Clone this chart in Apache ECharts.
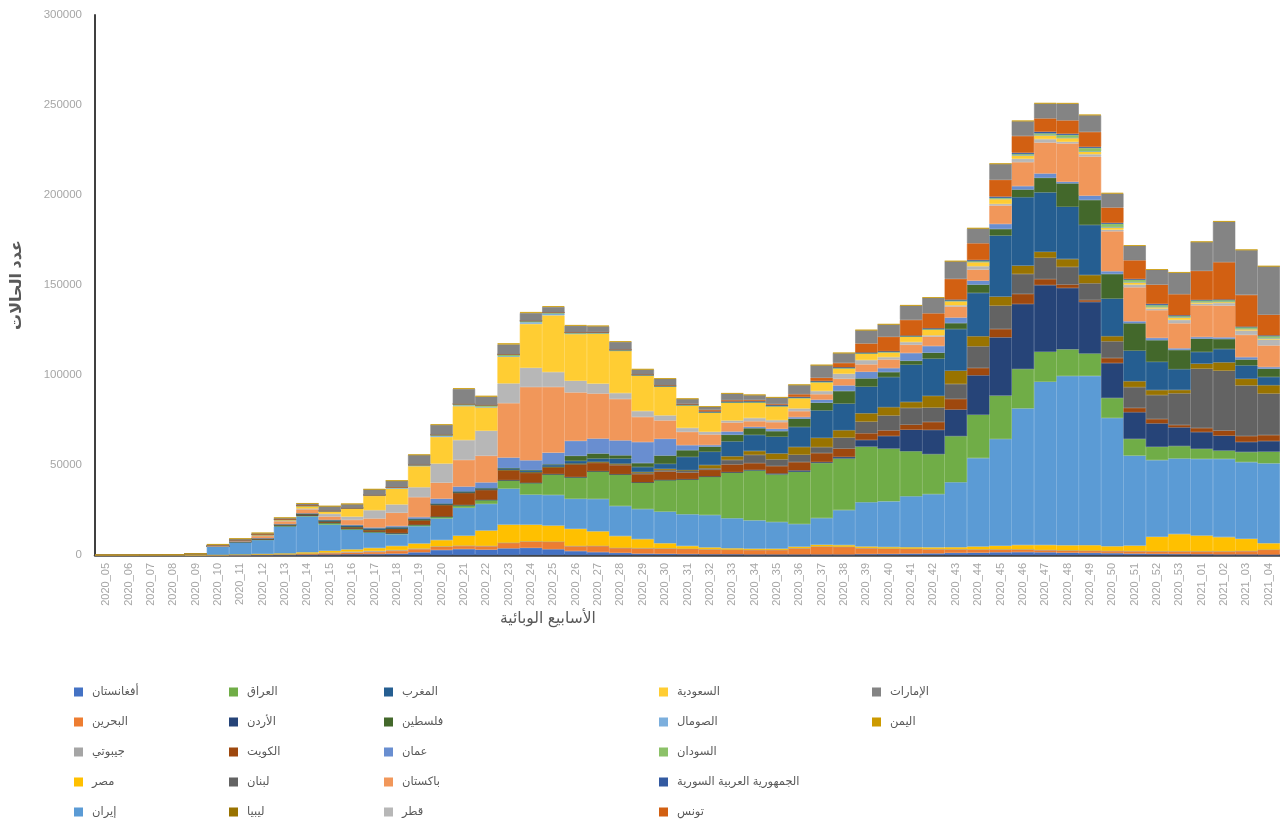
<!DOCTYPE html>
<html>
<head>
<meta charset="utf-8">
<title>عدد الحالات حسب الأسابيع الوبائية</title>
<script src="https://cdn.jsdelivr.net/npm/echarts@6/dist/echarts.min.js"></script>
<style>
  html, body { margin: 0; padding: 0; background: #fff; }
  #main { width: 1280px; height: 825px; }
</style>
</head>
<body>
<div id="main"></div>
<script>
// الأسابيع الوبائية
var weeks = ['2020_05','2020_06','2020_07','2020_08','2020_09','2020_10','2020_11','2020_12','2020_13','2020_14',
  '2020_15','2020_16','2020_17','2020_18','2020_19','2020_20','2020_21','2020_22','2020_23','2020_24',
  '2020_25','2020_26','2020_27','2020_28','2020_29','2020_30','2020_31','2020_32','2020_33','2020_34',
  '2020_35','2020_36','2020_37','2020_38','2020_39','2020_40','2020_41','2020_42','2020_43','2020_44',
  '2020_45','2020_46','2020_47','2020_48','2020_49','2020_50','2020_51','2020_52','2020_53',
  '2021_01','2021_02','2021_03','2021_04'];

var yTicks = [0, 50000, 100000, 150000, 200000, 250000, 300000];

// weekly cases per country
var afghanistan = [0,0,0,0,0, 0,10,20,100,150, 250,400,500,800,1500, 2800,3300,3000,3700,4000, 3200,2200,1600,1200,800, 700,500,400,400,300, 300,300,300,300,500, 600,800,900,1200,1300, 1500,1600,1500,1300,1200, 1000,800,600,500,400, 300,300,200];
var bahrain = [0,0,10,20,30, 80,150,300,250,500, 800,1000,1200,1500,1800, 1800,1800,2000,3100,3500, 4200,2800,3500,2800,3000, 3000,3000,2800,2600,2600, 2600,3500,4500,4300,3400, 3000,2700,2400,2000,1800, 1600,1500,1300,1200,1200, 1300,1400,1500,1600,1700, 1800,2000,2800];
var djibouti = [0,0,0,0,0, 0,0,10,50,150, 300,500,600,400,300, 200,150,100,80,60, 50,40,30,20,20, 10,10,10,10,10, 10,10,10,10,10, 10,10,10,10,20, 30,40,50,50,40, 30,20,20,10,10, 10,10,10];
var egypt = [0,0,5,10,20, 50,150,300,500,700, 1000,1200,1600,2300,2800, 3500,5500,8500,10000,9300, 8900,9500,8000,6500,5000, 2800,1500,1000,700,600, 600,800,900,900,800, 800,800,900,1100,1600, 2000,2400,2700,2800,3000, 2500,3000,8000,9500,8700, 7800,6700,3500];
var iran = [0,0,0,30,500, 4600,6900,7800,15000,20000, 14500,11000,8500,6500,9600, 12000,15500,14800,20000,16700, 17000,16700,18000,16700,16700, 17600,17600,18000,16700,15700, 14800,12600,14800,19400,24600, 25400,28300,29600,36100,49100, 59300,75900,90700,94100,94100, 71300,50000,42600,42000,42600, 43500,42600,44400];
var iraq = [0,0,0,0,10, 50,100,200,300,400, 1000,500,500,600,800, 1000,1500,2200,4600,6500, 11500,12000,15400,17600,14800, 17600,19400,21300,25400,27800, 26500,29000,30600,28700,30900, 29300,25000,22200,25600,24100, 24100,21900,16700,14800,12400, 11100,9300,7400,6900,5600, 4600,5600,6500];
var jordan = [0,0,0,0,0, 0,50,100,150,100, 80,50,30,30,30, 50,100,100,100,100, 100,80,60,50,50, 50,100,150,200,300, 500,800,500,900,3700, 7000,12000,13500,14800,21900, 32400,36100,37000,34100,28700, 19400,14800,13000,10400,9300, 8300,5600,5900];
var kuwait = [0,0,10,30,40, 50,100,150,200,500, 600,800,1000,2500,2400, 6500,6700,5500,5500,5500, 3700,7000,4600,5000,4600, 4600,3700,3700,4300,3700, 4100,4600,5000,4600,3700, 3100,2800,4400,5900,4100, 4600,5600,3300,1900,1000, 2800,2400,2400,1300,2200, 2800,3300,3300];
var lebanon = [0,0,0,0,10, 30,50,100,100,80, 60,30,20,10,50, 100,100,100,150,200, 100,200,300,500,600, 800,1000,800,2500,4600, 3700,4100,3300,6100,6500, 8300,9300,8000,8300,12000, 13000,11100,11900,9800,9300, 9300,11500,13300,17600,33000, 33300,28100,23100];
var libya = [0,0,0,0,0, 0,0,10,10,10, 20,10,10,10,20, 30,50,80,100,150, 200,300,300,400,500, 700,300,1800,2000,2200, 3300,4300,5200,4100,4600, 4600,3300,6500,7400,5600, 5000,4600,3300,4300,4600, 2800,3300,2800,1900,2800, 4600,3700,4600];
var morocco = [0,0,0,0,0, 10,50,200,300,300, 600,800,700,600,700, 500,500,600,800,900, 1100,1500,1800,2800,2800, 2800,7400,7400,8300,8900, 9300,11100,15200,14800,14800, 16700,20700,20700,23100,24100, 33900,38000,33000,29100,27800, 20900,17000,15700,11500,6500, 7400,7400,4600];
var palestine = [0,0,0,0,0, 10,20,30,50,50, 60,30,20,30,30, 20,30,50,100,200, 300,2800,2800,1800,2200, 4600,3700,2800,3700,3700, 3100,4600,4300,7000,4600, 2800,2200,3300,3300,4600, 3700,4300,8100,13000,13900, 13700,15200,12000,10700,7400, 5600,3300,4600];
var oman = [0,0,0,0,0, 10,30,100,150,200, 300,400,600,800,1000, 2800,2800,3300,5900,5500, 6500,8300,8300,8300,11700, 9300,2800,900,1800,800, 1300,900,1700,3100,3700, 2200,4300,3700,3100,2200, 2800,1900,2400,900,2400, 1500,1100,1300,900,900, 900,1300,900];
var pakistan = [0,0,0,0,0, 20,200,1300,1600,2200, 1800,2800,5000,7400,11100, 8900,14800,14800,30200,40700, 36500,26900,25000,23000,13900, 10200,7400,5900,5000,3100, 3700,3300,3000,3700,4100, 4800,4600,5200,6100,6100, 10200,13300,17200,21300,21700, 22200,18900,15400,13900,17600, 17600,12400,12000];
var qatar = [0,0,0,0,10, 300,300,300,400,500, 1500,1800,4600,4600,5500, 10600,11000,13900,11000,10700, 8300,6500,5500,3300,3300, 2800,2200,1500,1100,1800, 1100,1500,1800,2800,2400, 1300,1500,700,700,1900, 900,1900,1900,900,1300, 900,1500,900,1900,900, 1500,2400,3300];
var saudi = [0,0,0,0,0, 50,200,400,500,1500, 1500,4600,8000,8800,11700, 14800,18900,13000,14800,24400, 31500,26000,27800,23500,19800, 16100,12600,10700,10000,8700, 7800,5900,5000,3100,3700, 2800,3100,3300,2400,2400, 2800,1900,2200,2200,1500, 1300,1300,900,1500,900, 700,900,700];
var somalia = [0,0,0,0,0, 0,0,0,10,50, 100,100,300,400,500, 600,400,300,300,900, 1000,300,200,150,100, 80,60,50,50,50, 50,50,60,80,100, 100,100,100,100,150, 200,150,100,100,100, 100,100,80,60,60, 60,80,100];
var sudan = [0,0,0,0,0, 0,0,0,10,20, 50,100,200,300,300, 600,800,1000,1000,800, 500,400,300,300,200, 150,100,80,60,50, 50,50,100,100,100, 100,100,150,200,300, 400,600,900,1500,1900, 1900,1300,900,600,900, 900,900,1100];
var syria = [0,0,0,0,0, 0,0,5,10,10, 10,10,10,10,20, 20,30,30,40,50, 50,100,300,150,100, 150,300,400,500,500, 500,400,400,300,300, 300,300,400,500,600, 700,700,900,700,600, 500,400,700,400,300, 300,300,400];
var tunisia = [0,0,0,0,0, 10,80,200,300,200, 100,50,20,10,10, 10,10,10,10,10, 20,30,30,50,100, 200,300,900,700,700, 500,1500,1800,2400,5000, 8000,8700,8300,11500,9300, 9300,9300,7400,7400,8300, 8500,10400,10700,11700,16100, 20700,17600,11500];
var uae = [0,0,10,20,30, 600,700,700,700,1000, 2500,2200,3100,3700,5500, 5500,8300,4600,5500,4300, 3100,3700,3300,4300,2800, 3700,2800,1800,3700,2800, 3700,5200,7000,5500,7400, 6900,8000,8700,9800,8300, 8900,8300,8300,9300,9300, 7800,8100,8300,12000,16100, 22600,25000,26900];
var yemen = [0,0,0,0,0, 0,0,0,0,0, 0,0,0,10,50, 200,400,500,600,500, 400,400,300,300,200, 150,100,100,100,100, 100,100,100,100,100, 100,100,100,100,100, 100,150,200,300,300, 300,200,200,200,100, 100,100,100];

// stacking order = legend order (bottom to top)
var countries = [
  ['أفغانستان', afghanistan, '#4472C4'],
  ['البحرين', bahrain, '#ED7D31'],
  ['جيبوتي', djibouti, '#A5A5A5'],
  ['مصر', egypt, '#FFC000'],
  ['إيران', iran, '#5B9BD5'],
  ['العراق', iraq, '#70AD47'],
  ['الأردن', jordan, '#264478'],
  ['الكويت', kuwait, '#9E480E'],
  ['لبنان', lebanon, '#636363'],
  ['ليبيا', libya, '#997300'],
  ['المغرب', morocco, '#255E91'],
  ['فلسطين', palestine, '#43682B'],
  ['عمان', oman, '#698ED0'],
  ['باكستان', pakistan, '#F1975A'],
  ['قطر', qatar, '#B7B7B7'],
  ['السعودية', saudi, '#FFCD33'],
  ['الصومال', somalia, '#7CAFDD'],
  ['السودان', sudan, '#8CC168'],
  ['الجمهورية العربية السورية', syria, '#335AA1'],
  ['تونس', tunisia, '#D26012'],
  ['الإمارات', uae, '#848484'],
  ['اليمن', yemen, '#CC9A00']
];

var font = "'Liberation Sans', 'DejaVu Sans', sans-serif";

var series = countries.map(function (c) {
  return {
    name: c[0],
    type: 'bar',
    stack: 'total',
    barCategoryGap: '0%',
    data: c[1],
    // border in the fill colour hides the hairline gaps between bars
    itemStyle: { color: c[2], borderColor: c[2], borderWidth: 0.6 },
    emphasis: { disabled: true }
  };
});

// legend: five columns, filled top to bottom
var legendLefts = [69, 224, 379, 654, 867];
var legends = legendLefts.map(function (left, col) {
  return {
    orient: 'vertical',
    left: left,
    top: 680,
    height: 170,
    itemWidth: 7,
    itemHeight: 7,
    itemGap: 16,
    icon: 'rect',
    selectedMode: false,
    textStyle: { color: '#595959', fontSize: 11.5, fontFamily: font, padding: [0, 0, 0, 5], lineHeight: 14 },
    data: countries.slice(col * 5, col * 5 + 5).map(function (c) { return c[0]; })
  };
});

var myChart = echarts.init(document.getElementById('main'));

var option = {
  animation: false,
  backgroundColor: '#ffffff',
  grid: { left: 95, right: 0, top: 15, bottom: 270 },
  legend: legends,
  xAxis: {
    type: 'category',
    data: weeks,
    axisLine: { lineStyle: { color: '#404040', width: 2.5 } },
    axisTick: { show: false },
    axisLabel: { rotate: 90, interval: 0, color: '#a6a6a6', fontSize: 11, fontFamily: font, margin: 8 }
  },
  yAxis: {
    type: 'value',
    min: yTicks[0],
    max: yTicks[yTicks.length - 1],
    interval: yTicks[1] - yTicks[0],
    name: 'عدد الحالات',
    nameLocation: 'middle',
    nameRotate: 90,
    nameGap: 70,
    nameTextStyle: { color: '#595959', fontSize: 16, fontWeight: 'bold', fontFamily: font },
    axisLine: { show: true, lineStyle: { color: '#404040', width: 2 } },
    axisTick: { show: false },
    splitLine: { show: false },
    axisLabel: {
      color: '#a6a6a6', fontSize: 11.5, fontFamily: font, margin: 13,
      formatter: function (v) { return String(v); }
    }
  },
  graphic: [{
    type: 'text',
    left: 500,
    top: 611,
    style: { text: 'الأسابيع الوبائية', fill: '#595959', font: '15.5px ' + font }
  }],
  series: series
};

myChart.setOption(option);
</script>
</body>
</html>
